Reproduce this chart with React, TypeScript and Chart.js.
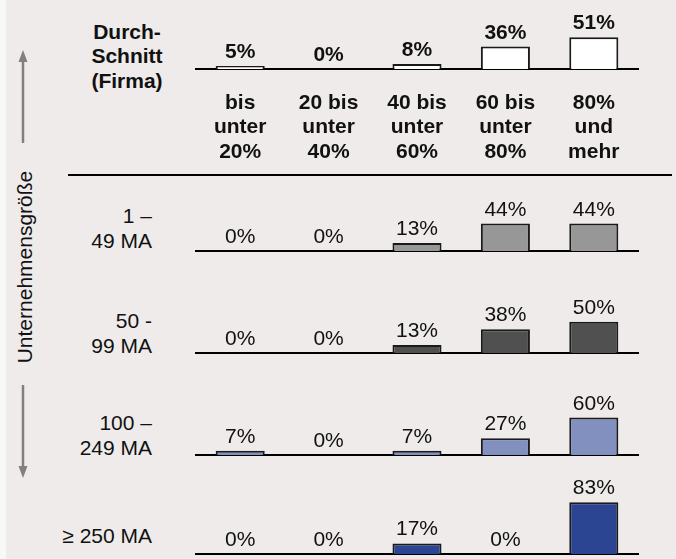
import React, { useEffect, useRef } from "react";
import { Chart, registerables } from "chart.js";

Chart.register(...registerables);

// ---- data ----
const categories: string[][] = [
  ["bis", "unter", "20%"],
  ["20 bis", "unter", "40%"],
  ["40 bis", "unter", "60%"],
  ["60 bis", "unter", "80%"],
  ["80%", "und", "mehr"],
];
const rowNames: string[] = ["Durch-\nSchnitt\n(Firma)", "1 –\n49 MA", "50 -\n99 MA", "100 –\n249 MA", "≥ 250 MA"];
const avgValues: number[] = [5, 0, 8, 36, 51];
const size1Values: number[] = [0, 0, 13, 44, 44];
const size2Values: number[] = [0, 0, 13, 38, 50];
const size3Values: number[] = [7, 0, 7, 27, 60];
const size4Values: number[] = [0, 0, 17, 0, 83];
const rowColors: string[] = ["#ffffff", "#979797", "#505050", "#8190bf", "#2c4592"];
const axisTitle = "Unternehmensgröße";

const FONT = '"Liberation Sans", Arial, Helvetica, sans-serif';

const valueLabelPlugin = {
  id: "valueLabels",
  afterDatasetsDraw(chart: any) {
    const ctx = chart.ctx;
    const bold = chart.options.plugins.valueLabels?.bold;
    const meta = chart.getDatasetMeta(0);
    const data = chart.data.datasets[0].data as number[];
    ctx.save();
    ctx.fillStyle = "#111";
    ctx.font = `${bold ? "bold " : ""}21px ${FONT}`;
    ctx.textAlign = "center";
    ctx.textBaseline = "alphabetic";
    meta.data.forEach((el: any, i: number) => {
      ctx.fillText(`${data[i]}%`, el.x, el.y - 8);
    });
    ctx.restore();
  },
};

interface RowProps {
  values: number[];
  color: string;
  bold: boolean;
  showTicks: boolean;
  top: number;
  height: number;
  padTop: number;
  padBottom: number;
  axisHeight?: number;
}

function RowChart(p: RowProps) {
  const ref = useRef<HTMLCanvasElement | null>(null);
  useEffect(() => {
    if (!ref.current) return;
    const chart = new Chart(ref.current, {
      type: "bar",
      data: {
        labels: categories,
        datasets: [
          {
            data: p.values,
            backgroundColor: p.color,
            borderColor: "#1a1a1a",
            borderWidth: 2,
            borderSkipped: "start",
            barPercentage: 0.555,
            categoryPercentage: 1,
          },
        ],
      },
      options: {
        animation: false,
        responsive: false,
        maintainAspectRatio: false,
        layout: { padding: { left: 196, right: 38, top: p.padTop, bottom: p.padBottom } },
        plugins: {
          legend: { display: false },
          tooltip: { enabled: false },
          valueLabels: { bold: p.bold },
        } as any,
        scales: {
          x: {
            type: "category",
            grid: { display: false, drawTicks: false },
            border: { display: true, color: "#000", width: 2 },
            ticks: {
              display: p.showTicks,
              color: "#111",
              padding: 21.5,
              maxRotation: 0,
              autoSkip: false,
              font: { family: FONT, size: 21, weight: "bold", lineHeight: 1.17 },
            },
            afterFit: (scale: any) => {
              if (p.axisHeight !== undefined) scale.height = p.axisHeight;
            },
          },
          y: {
            display: false,
            min: 0,
            max: 100,
          },
        },
      } as any,
      plugins: [valueLabelPlugin],
    });
    return () => chart.destroy();
  }, []);
  return (
    <canvas
      ref={ref}
      width={676}
      height={p.height}
      style={{ position: "absolute", left: 0, top: p.top, width: 676, height: p.height }}
    />
  );
}

export default function App() {
  const rowValues = [avgValues, size1Values, size2Values, size3Values, size4Values];
  const baselines = [69, 251, 353, 455, 554];
  const rowLabelTops = [0, 203, 308, 409.5, 523];
  const textStyle: React.CSSProperties = {
    position: "absolute",
    fontFamily: FONT,
    fontSize: 21,
    color: "#111",
    whiteSpace: "pre-line",
  };
  return (
    <div
      style={{
        position: "fixed",
        left: 0,
        top: 0,
        width: 676,
        height: 559,
        background: "#f8f8f8",
        overflow: "hidden",
      }}
    >
      <div style={{ position: "absolute", left: 6, top: 0, width: 670, height: 559, background: "#eeebea" }} />
      {/* vertical axis title and arrows */}
      <svg width={676} height={559} style={{ position: "absolute", left: 0, top: 0 }}>
        <line x1={23} y1={60} x2={23} y2={143} stroke="#808080" strokeWidth={2.5} />
        <polygon points="23,50 18.5,62 27.5,62" fill="#808080" />
        <line x1={23} y1={385} x2={23} y2={468} stroke="#808080" strokeWidth={2.5} />
        <polygon points="23,478 18.5,466 27.5,466" fill="#808080" />
      </svg>
      <div
        style={{
          ...textStyle,
          left: 24,
          top: 267,
          lineHeight: "21px",
          whiteSpace: "nowrap",
          transform: "translate(-50%, -50%) rotate(-90deg)",
        }}
      >
        {axisTitle}
      </div>
      {/* separator line */}
      <div style={{ position: "absolute", left: 68, top: 174, width: 604, height: 2, background: "#000" }} />
      {/* row labels */}
      <div
        style={{
          ...textStyle,
          left: 60,
          top: 19.5,
          width: 134,
          textAlign: "center",
          fontWeight: "bold",
          lineHeight: "24.5px",
        }}
      >
        {rowNames[0]}
      </div>
      {rowNames.slice(1).map((name, i) => (
        <div
          key={name}
          style={{ ...textStyle, left: 0, width: 152, top: rowLabelTops[i + 1], textAlign: "right", lineHeight: "25px" }}
        >
          {name}
        </div>
      ))}
      {/* charts */}
      <RowChart
        values={rowValues[0]}
        color={rowColors[0]}
        bold={true}
        showTicks={true}
        top={0}
        height={172}
        padTop={baselines[0] - 62.5}
        padBottom={0}
        axisHeight={172 - baselines[0]}
      />
      {rowValues.slice(1).map((vals, i) => {
        const b = baselines[i + 1];
        const top = b - 100;
        const h = Math.min(104, 559 - top);
        return (
          <RowChart
            key={i}
            values={vals}
            color={rowColors[i + 1]}
            bold={false}
            showTicks={false}
            top={top}
            height={h}
            padTop={37.5}
            padBottom={h - 100}
          />
        );
      })}
    </div>
  );
}
